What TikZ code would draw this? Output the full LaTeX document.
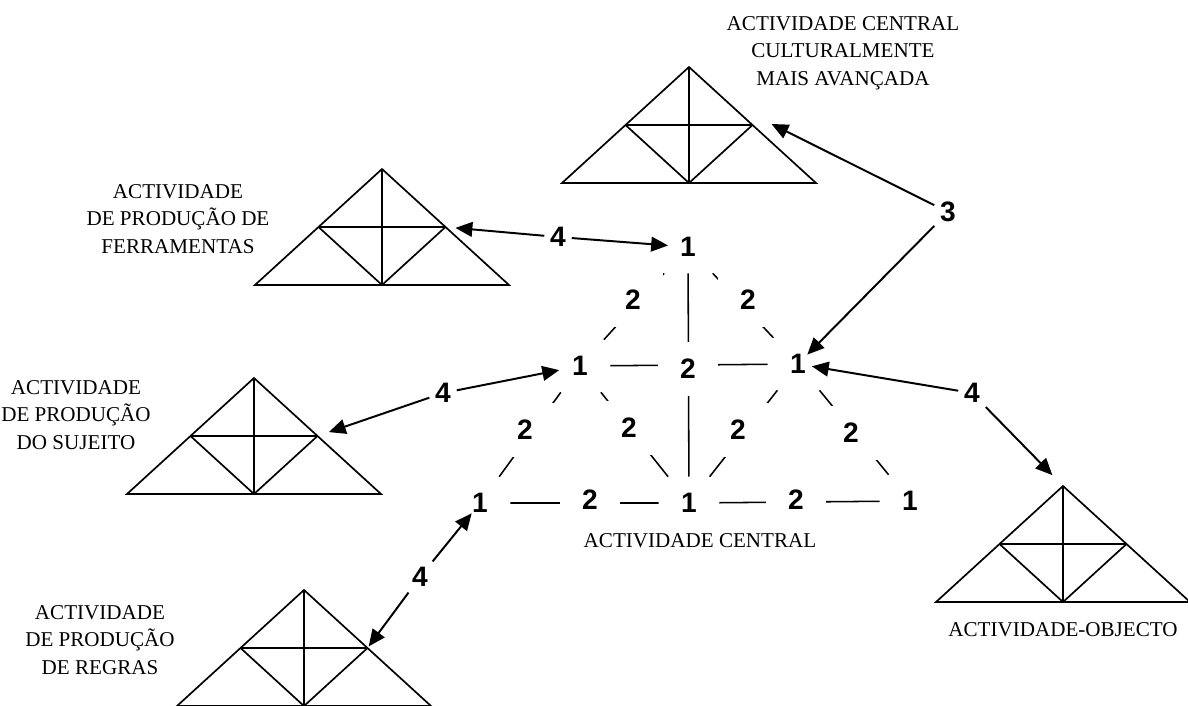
\documentclass[tikz,border=0pt]{standalone}
\usepackage{fontspec}
\setmainfont{Liberation Serif}
\newfontfamily\numfont{Liberation Sans}
\usetikzlibrary{arrows.meta, backgrounds}

% one activity system: outer triangle with its inner lines
\tikzset{
  acttri/.pic={
    \coordinate (-apex) at (0,0);
    \coordinate (-bl) at (-127,116);
    \coordinate (-br) at (127,116);
    \coordinate (-bm) at (0,116);
    \coordinate (-ml) at (-63.5,58);
    \coordinate (-mr) at (63.5,58);
    \draw[line width=1.2pt] (-bl) -- (-apex) -- (-br) -- cycle;
    \draw[line width=1.2pt] (-ml) -- (-mr) (-ml) -- (-bm) -- (-mr) (-apex) -- (-bm);
  }
}

\begin{document}
\begin{tikzpicture}[x=0.025cm,y=-0.025cm,
    one/.style={font=\numfont\bfseries\fontsize{20}{20}\selectfont, fill=white,
      minimum width=1.5cm, minimum height=1.3cm, inner sep=0pt},
    two/.style={one, minimum height=1.35cm},
    link/.style={font=\numfont\bfseries\fontsize{20}{20}\selectfont, inner sep=4pt},
    arr/.style={-{Triangle[length=12pt,width=10.5pt]}, line width=1.4pt},
    caption/.style={font=\fontsize{15}{19.5}\selectfont, align=center, inner sep=0pt}]
  \useasboundingbox (0,0) rectangle (1188,705);

  % the surrounding activities
  \pic (cult) at (689,67) {acttri};
  \pic (ferr) at (382,169) {acttri};
  \pic (suj) at (254,378) {acttri};
  \pic (reg) at (304,590) {acttri};
  \pic (obj) at (1063,486) {acttri};

  \node[caption] at (843,53) {ACTIVIDADE CENTRAL\\CULTURALMENTE\\MAIS AVANÇADA};
  \node[caption] at (178,219) {ACTIVIDADE\\DE PRODUÇÃO DE\\FERRAMENTAS};
  \node[caption] at (76,415) {ACTIVIDADE\\DE PRODUÇÃO\\DO SUJEITO};
  \node[caption] at (100,640) {ACTIVIDADE\\DE PRODUÇÃO\\DE REGRAS};
  \node[caption] at (700,541) {ACTIVIDADE CENTRAL};
  \node[caption] at (1063,630) {ACTIVIDADE-OBJECTO};

  % central activity
  \node[one] (t1) at (688,247) {1};
  \node[one] (ml) at (580,366) {1};
  \node[one] (mr) at (798,364) {1};
  \node[one] (bl) at (480,503) {1};
  \node[one] (bm) at (689,503) {1};
  \node[one] (br) at (910,501) {1};

  \node[two] (a) at (633,300) {2};
  \node[two] (b) at (748,300) {2};
  \node[two] (c) at (688,369) {2};
  \node[two] (d) at (525,430) {2};
  \node[two] (e) at (629,428) {2};
  \node[two] (f) at (738,430) {2};
  \node[two] (g) at (851,433) {2};
  \node[two] (h) at (590,500) {2};
  \node[two] (i) at (796,500) {2};

  \begin{pgfonlayer}{background}
    \draw[line width=1.1pt]
      (t1) -- (ml) (t1) -- (mr) (t1) -- (bm)
      (ml) -- (mr) (ml) -- (bl) (ml) -- (bm)
      (mr) -- (bm) (mr) -- (br)
      (bl) -- (bm) (bm) -- (br);
  \end{pgfonlayer}

  % links between the systems
  \node[link] (n3) at (948,212) {3};
  \node[link] (f4) at (558,237) {4};
  \node[link] (s4) at (443,393) {4};
  \node[link] (r4) at (420,577) {4};
  \node[link] (o4) at (972,393) {4};

  \draw[arr] (n3) -- ([shift={(19,-1)}]cult-mr);
  \draw[arr, shorten >=0.33cm] (n3) -- (mr.center);
  \draw[arr, shorten >=0.25cm] (f4) -- (ferr-mr);
  \draw[arr, shorten >=0.5cm] (f4) -- (t1.center);
  \draw[arr, shorten >=0.3cm] (s4) -- (suj-mr);
  \draw[arr, shorten >=0.53cm] (s4) -- (ml.center);
  \draw[arr, shorten >=0.05cm] (r4) -- (reg-mr);
  \draw[arr, shorten >=0.33cm] (r4) -- (bl.center);
  \draw[arr, shorten >=0.35cm] (o4) -- (mr.center);
  \draw[arr, shorten >=0.38cm] (o4) -- (obj-apex);
\end{tikzpicture}
\end{document}
